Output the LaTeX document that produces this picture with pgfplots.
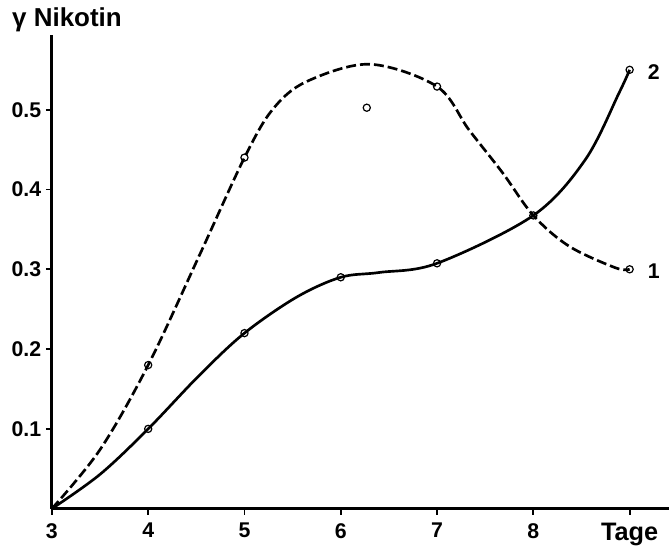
\documentclass[border=0pt]{standalone}
\usepackage{fontspec}
\setmainfont{Liberation Sans}
\usepackage{pgfplots}
\pgfplotsset{compat=1.18}

\begin{document}
\begin{tikzpicture}
\begin{axis}[
    scale only axis,
    width=463.5pt, height=356.25pt,
    xmin=3, xmax=9.404, ymin=0, ymax=0.594,
    axis lines=left,
    axis line style={-, line width=2.2pt},
    clip=false,
    xtick={3,4,5,6,7,8,9},
    xticklabels={3,4,5,6,7,8,{\fontsize{19}{19}\selectfont Tage}},
    ytick={0.1,0.2,0.3,0.4,0.5},
    yticklabels={0.1,0.2,0.3,0.4,0.5},
    tick align=outside,
    major tick length=4.5pt,
    tick style={line width=1.4pt, black},
    ticklabel style={font=\bfseries\fontsize{16}{16}\selectfont},
    xticklabel style={yshift=-3pt, anchor=north},
    /pgf/number format/assume math mode=true,
]
% Kurve 1 (gestrichelt), Verlauf abgelesen
\addplot[black, line width=2pt, dash pattern=on 7.5pt off 3pt, smooth, tension=0.55] coordinates {
    (3,0) (3.5,0.074) (4,0.18) (4.53,0.317) (5,0.44) (5.29,0.50) (5.64,0.535)
    (6.3,0.557) (7,0.529) (7.33,0.475) (7.68,0.421) (8,0.3675)
    (8.37,0.329) (8.85,0.302) (9,0.30)
};
% Kurve 2 (durchgezogen)
\addplot[black, line width=2pt, smooth, tension=0.55] coordinates {
    (3,0) (3.5,0.043) (4,0.10) (4.53,0.167) (5,0.22) (5.54,0.265) (6,0.29) (6.4,0.296)
    (7,0.3075) (8,0.3675) (8.54,0.4375) (8.89,0.521) (9,0.55)
};
% Messpunkte
\addplot[only marks, mark=o, mark size=2.7pt, mark options={fill=white, line width=0.9pt}] coordinates {
    (4,0.18) (5,0.44) (7,0.529) (8,0.3675) (9,0.30)
};
\addplot[only marks, mark=o, mark size=2.7pt, mark options={fill=white, line width=0.9pt}] coordinates {
    (4,0.10) (5,0.22) (6,0.29) (7,0.3075) (9,0.55)
};
\addplot[only marks, mark=o, mark size=2.7pt, mark options={fill=white, line width=0.9pt}] coordinates {
    (6.27,0.5025)
};
\node[anchor=west, inner sep=0pt, font=\bfseries\fontsize{19.5}{19.5}\selectfont] at (axis cs:2.585,0.6125) {γ Nikotin};
\node[font=\bfseries\fontsize{16}{16}\selectfont] at (axis cs:9.25,0.5475) {2};
\node[font=\bfseries\fontsize{16}{16}\selectfont] at (axis cs:9.25,0.2975) {1};
\path (axis cs:2.461,-0.05) rectangle (axis cs:9.404,0.6375);
\end{axis}
\end{tikzpicture}
\end{document}
